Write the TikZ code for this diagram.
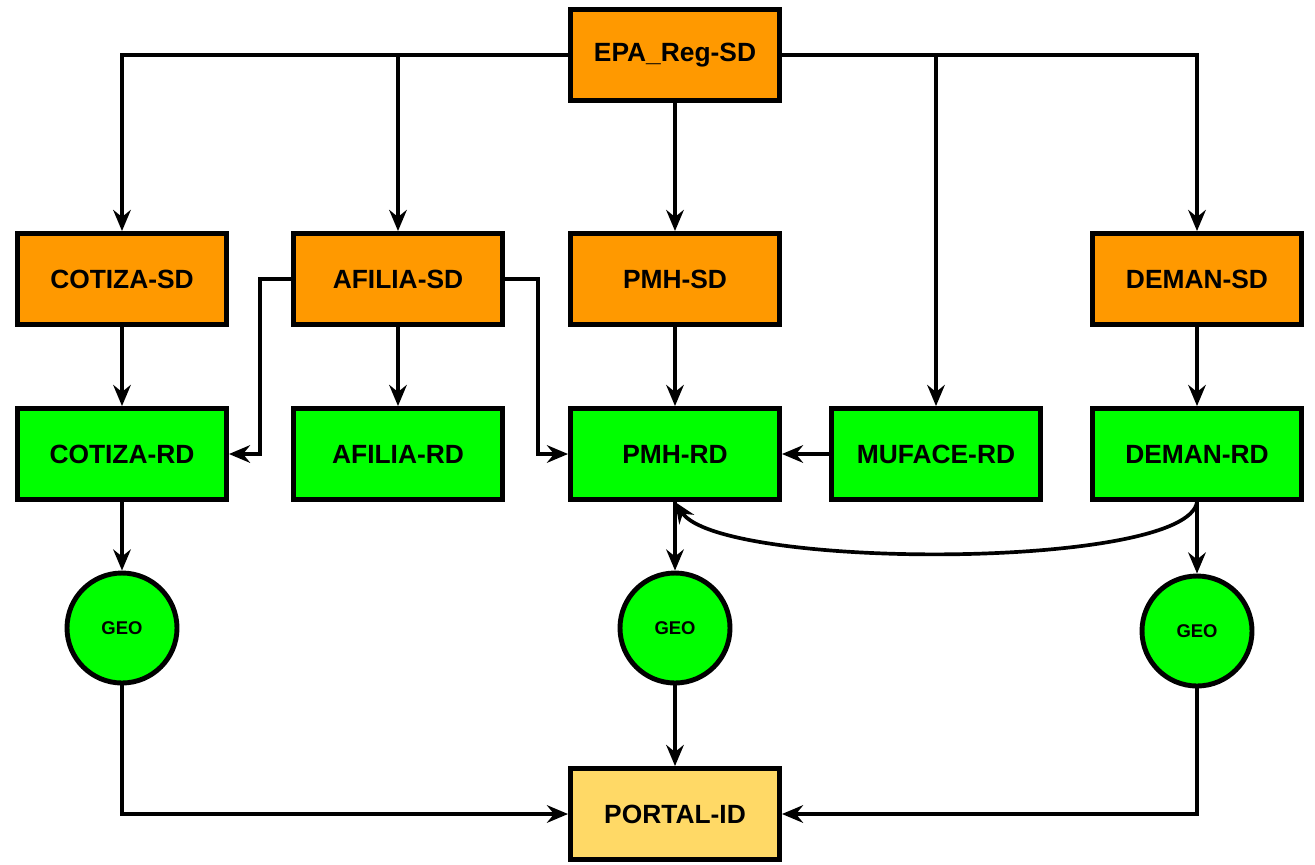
\documentclass[tikz,border=0pt]{standalone}
\usepackage{fontspec}
\setmainfont{Liberation Sans}
\usetikzlibrary{arrows, positioning, arrows.meta, shapes}

\definecolor{sdorange}{HTML}{FF9900}
\definecolor{rdgreen}{HTML}{00FF00}
\definecolor{idyellow}{HTML}{FFD966}

\begin{document}
\begin{tikzpicture}[
    box/.style={draw, line width=2.8pt, minimum width=4.18cm, minimum height=1.82cm,
        font=\fontsize{15}{17}\selectfont\bfseries},
    sdbox/.style={box, fill=sdorange},
    rdbox/.style={box, fill=rdgreen},
    idbox/.style={box, fill=idyellow},
    geo/.style={draw, circle, line width=2.8pt, fill=rdgreen, minimum size=2.2cm,
        font=\fontsize{10.5}{12}\selectfont\bfseries},
    link/.style={line width=2.1pt, arrows={-Stealth[length=12pt, width=10pt, inset=4pt]}}
]
    \useasboundingbox (0,0) rectangle (26.3,-17.28);

    % Nodes
    \node[sdbox] (epa) at (13.5,-1.1) {EPA\_Reg-SD};
    \node[sdbox, below of=epa, node distance=4.48cm] (pmh sd) {PMH-SD};
    \node[sdbox, left of=pmh sd, node distance=5.54cm] (afilia sd) {AFILIA-SD};
    \node[sdbox, left of=afilia sd, node distance=5.52cm] (cotiza sd) {COTIZA-SD};
    \node[sdbox, right of=pmh sd, node distance=10.44cm] (deman sd) {DEMAN-SD};

    \node[rdbox, below of=cotiza sd, node distance=3.5cm] (cotiza rd) {COTIZA-RD};
    \node[rdbox, below of=afilia sd, node distance=3.5cm] (afilia rd) {AFILIA-RD};
    \node[rdbox, below of=pmh sd, node distance=3.5cm] (pmh rd) {PMH-RD};
    \node[rdbox, right of=pmh rd, node distance=5.22cm] (muface rd) {MUFACE-RD};
    \node[rdbox, below of=deman sd, node distance=3.5cm] (deman rd) {DEMAN-RD};

    \node[geo, below of=cotiza rd, node distance=3.48cm] (cotiza geo) {GEO};
    \node[geo, below of=pmh rd, node distance=3.48cm] (pmh geo) {GEO};
    \node[geo, below of=deman rd, node distance=3.54cm] (deman geo) {GEO};

    \node[idbox, below of=pmh geo, node distance=3.72cm] (portal) {PORTAL-ID};

    % Connections
    \draw[link] (epa.west) -| (cotiza sd.north);
    \draw[link] (epa.west) -| (afilia sd.north);
    \draw[link] (epa) -- (pmh sd);
    \draw[link] (epa.east) -| (muface rd.north);
    \draw[link] (epa.east) -| (deman sd.north);

    \draw[link] (cotiza sd) -- (cotiza rd);
    \draw[link] (afilia sd) -- (afilia rd);
    \draw[link] (pmh sd) -- (pmh rd);
    \draw[link] (deman sd) -- (deman rd);
    \draw[link] (afilia sd.west) -- ++(-0.62,0) |- (cotiza rd.east);
    \draw[link] (afilia sd.east) -- ++(0.66,0) |- (pmh rd.west);
    \draw[link] (muface rd) -- (pmh rd);
    \draw[link] (deman rd.south) .. controls +(-0.2,-1.36) and +(0.9,-1.36) .. (pmh rd.south);

    \draw[link] (cotiza rd) -- (cotiza geo);
    \draw[link] (pmh rd) -- (pmh geo);
    \draw[link] (deman rd) -- (deman geo);

    \draw[link] (cotiza geo.south) |- (portal.west);
    \draw[link] (pmh geo) -- (portal);
    \draw[link] (deman geo.south) |- (portal.east);
\end{tikzpicture}
\end{document}
